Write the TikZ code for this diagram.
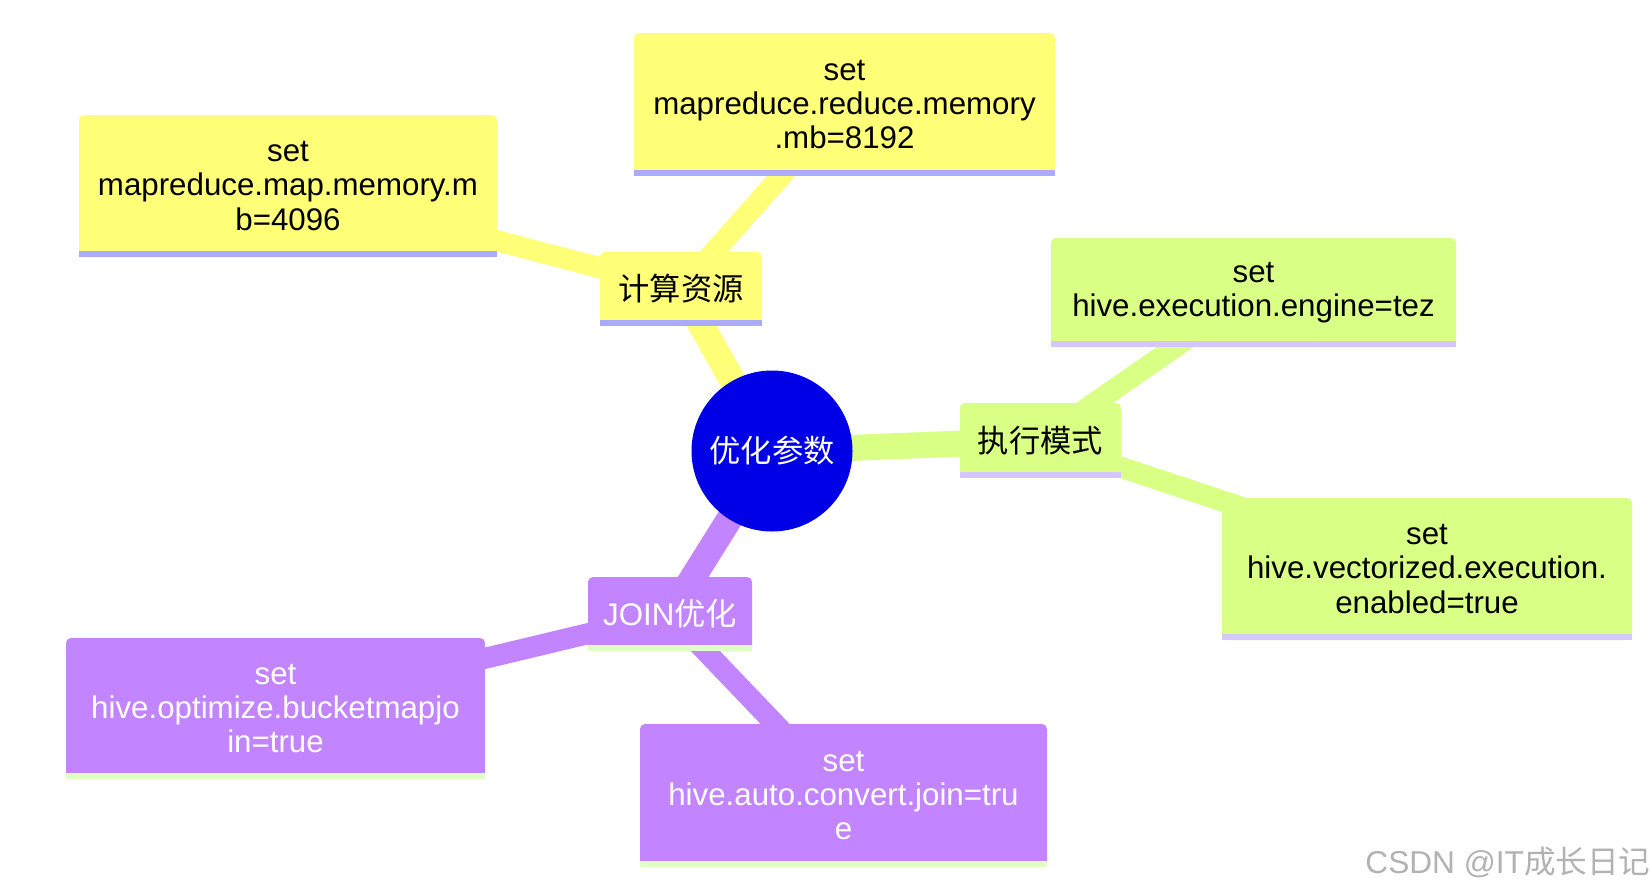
\documentclass[tikz,border=0pt]{standalone}
\usepackage{fontspec}
\setmainfont{Liberation Sans}
\newfontfamily\cjk{Noto Sans CJK SC}
\usetikzlibrary{backgrounds}

\newlength\unitpx
\setlength\unitpx{0.02cm}

\definecolor{rootblue}{HTML}{0000E6}
\definecolor{secyellow}{HTML}{FFFF78}
\definecolor{secgreen}{HTML}{D9FF85}
\definecolor{secpurple}{HTML}{C285FF}
\definecolor{stripey}{HTML}{AAAAFF}
\definecolor{stripeg}{HTML}{D5C6FF}
\definecolor{stripep}{HTML}{DEFFC8}

\begin{document}
\begin{tikzpicture}[
  x=0.02cm, y=-0.02cm,
  core/.style={circle, fill=rootblue, text=white, minimum size=161\unitpx, inner sep=0pt,
    font=\fontsize{17.8pt}{19.4pt}\selectfont},
  box/.style={rectangle, rounded corners=5\unitpx, inner sep=0pt, align=center,
    font=\fontsize{17.8pt}{19.4pt}\selectfont},
  ybox/.style={box, fill=secyellow, text=black},
  gbox/.style={box, fill=secgreen, text=black},
  pbox/.style={box, fill=secpurple, text=white},
  trunk/.style={line width=26\unitpx},
  twig/.style={line width=21\unitpx},
  watermark/.style={text=gray!60, font=\fontsize{18pt}{19.4pt}\selectfont}
]
\useasboundingbox (0,0) rectangle (1652,892);

% Centre
\node[core] (root) at (772,451) {\cjk 优化参数};

% First level
\node[ybox, minimum width=162\unitpx, minimum height=74\unitpx] (calc) at (681,289) {\cjk 计算资源};
\node[gbox, minimum width=161\unitpx, minimum height=75\unitpx] (exec) at (1040.5,440.5) {\cjk 执行模式};
\node[pbox, minimum width=164\unitpx, minimum height=74\unitpx] (join) at (670,614) {JOIN{\cjk 优化}};

% Leaves
\node[ybox, minimum width=418\unitpx, minimum height=142\unitpx] (map) at (288,186)
  {set\\mapreduce.map.memory.m\\b=4096};
\node[ybox, minimum width=421\unitpx, minimum height=143\unitpx] (reduce) at (844.5,104.5)
  {set\\mapreduce.reduce.memory\\.mb=8192};
\node[gbox, minimum width=405\unitpx, minimum height=109\unitpx] (engine) at (1253.5,292.5)
  {set\\hive.execution.engine=tez};
\node[gbox, minimum width=410\unitpx, minimum height=142\unitpx] (vector) at (1427,569)
  {set\\hive.vectorized.execution.\\enabled=true};
\node[pbox, minimum width=419\unitpx, minimum height=141\unitpx] (bucket) at (275.5,708.5)
  {set\\hive.optimize.bucketmapjo\\in=true};
\node[pbox, minimum width=407\unitpx, minimum height=143\unitpx] (auto) at (843.5,795.5)
  {set\\hive.auto.convert.join=tru\\e};

% Stripes under the boxes
\foreach \n/\c in {calc/stripey, map/stripey, reduce/stripey,
                   exec/stripeg, engine/stripeg, vector/stripeg,
                   join/stripep, bucket/stripep, auto/stripep}
  \fill[\c] (\n.south west) rectangle ([yshift=6\unitpx]\n.south east);

% Connections
\begin{scope}[on background layer]
  \draw[trunk, secyellow] (root.center) -- (calc.center);
  \draw[trunk, secgreen] (root.center) -- (exec.center);
  \draw[trunk, secpurple] (root.center) -- (join.center);
  \draw[twig, secyellow] (calc.center) -- (map.center);
  \draw[twig, secyellow] (calc.center) -- (reduce.center);
  \draw[twig, secgreen] (exec.center) -- (engine.center);
  \draw[twig, secgreen] (exec.center) -- (vector.center);
  \draw[twig, secpurple] (join.center) -- (bucket.center);
  \draw[twig, secpurple] (join.center) -- (auto.center);
\end{scope}

\node[watermark] (credit) at (1508,862) {CSDN @IT{\cjk 成长日记}};

\end{tikzpicture}
\end{document}
